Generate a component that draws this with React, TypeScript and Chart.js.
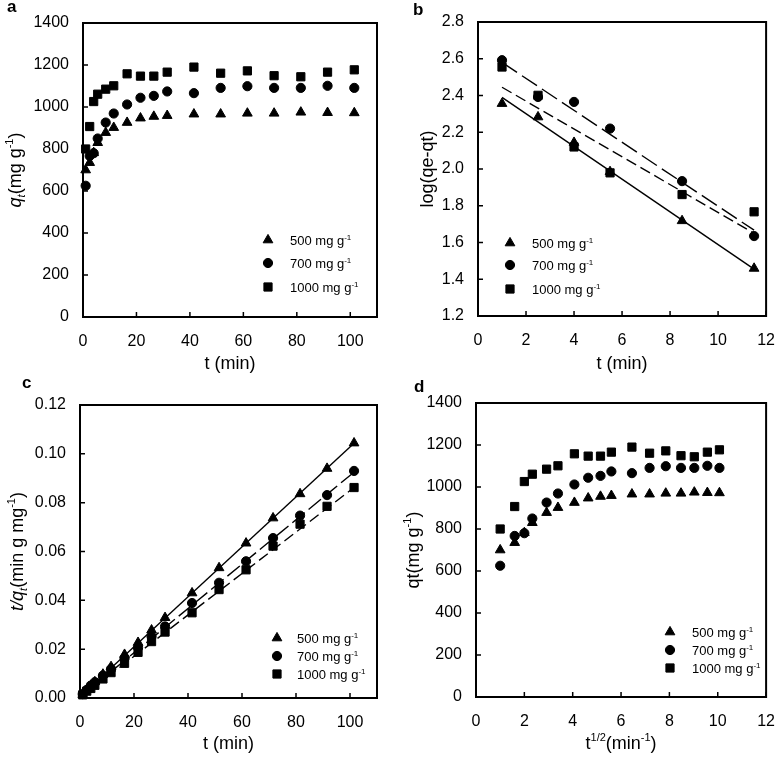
import React, { useEffect, useRef } from "react";
import { Chart, registerables } from "chart.js";
Chart.register(...registerables);

const FONT = "'Liberation Sans', Arial, Helvetica, sans-serif";

// ---------- data ----------
const seriesNames = ["500 mg g", "700 mg g", "1000 mg g"];

// contact time (min)
const timeMin = [1, 2.5, 4, 5.5, 8.5, 11.5, 16.5, 21.5, 26.5, 31.5, 41.5, 51.5, 61.5, 71.5, 81.5, 91.5, 101.5];
// t^(1/2) values as plotted in panel d
const sqrtTime = [1, 1.6, 2, 2.33, 2.92, 3.39, 4.07, 4.64, 5.15, 5.6, 6.45, 7.18, 7.85, 8.48, 9.03, 9.57, 10.07];

const qt500 = [700, 735, 782, 830, 878, 902, 926, 947, 955, 959, 966, 966, 970, 970, 975, 973, 972];
const qt700 = [625, 767, 780, 850, 926, 969, 1012, 1044, 1053, 1074, 1066, 1091, 1099, 1091, 1091, 1101, 1091];
const qt1000 = [800, 907, 1026, 1061, 1085, 1101, 1158, 1147, 1147, 1166, 1190, 1161, 1172, 1149, 1144, 1166, 1177];

// pseudo-first-order (panel b)
const tFirst = [1, 2.5, 4, 5.5, 8.5, 11.5];
const log500 = [2.356, 2.283, 2.144, 1.985, 1.718, 1.459];
const log700 = [2.592, 2.392, 2.365, 2.22, 1.934, 1.635];
const log1000 = [2.555, 2.401, 2.12, 1.979, 1.861, 1.767];
const fitXFirst = [1, 11.5];
const fitLog500 = [2.39, 1.455];
const fitLog700 = [2.58, 1.667];
const fitLog1000 = [2.445, 1.65];

// pseudo-second-order (panel c)
const tq500 = [0.0014, 0.0034, 0.0051, 0.0066, 0.0097, 0.0128, 0.0178, 0.0227, 0.0278, 0.0329, 0.043, 0.0533, 0.0634, 0.0737, 0.0836, 0.094, 0.1044];
const tq700 = [0.0016, 0.0033, 0.0051, 0.0065, 0.0092, 0.0119, 0.0163, 0.0206, 0.0252, 0.0293, 0.0389, 0.0472, 0.056, 0.0655, 0.0747, 0.0831, 0.093];
const tq1000 = [0.0013, 0.0028, 0.0039, 0.0052, 0.0078, 0.0104, 0.0142, 0.0187, 0.0231, 0.027, 0.0349, 0.0444, 0.0525, 0.0622, 0.0712, 0.0785, 0.0862];
const fitXSecond = [0.5, 101.5];
const fitTq500 = [0.001, 0.1043];
const fitTq700 = [0.0008, 0.0925];
const fitTq1000 = [0.0005, 0.0862];

// tick values
const ticksQt = [0, 200, 400, 600, 800, 1000, 1200, 1400];
const ticksTime = [0, 20, 40, 60, 80, 100];
const ticksLog = [1.2, 1.4, 1.6, 1.8, 2.0, 2.2, 2.4, 2.6, 2.8];
const ticksTwelve = [0, 2, 4, 6, 8, 10, 12];
const ticksTq = [0, 0.02, 0.04, 0.06, 0.08, 0.1, 0.12];

// ---------- helpers ----------
type Seg = { t: string; it?: boolean; sup?: boolean; sub?: boolean };

function segFont(s: Seg, size: number) {
  const sz = s.sup || s.sub ? Math.round(size * 0.62) : size;
  return `${s.it ? "italic " : ""}${sz}px ${FONT}`;
}
function richWidth(ctx: CanvasRenderingContext2D, segs: Seg[], size: number) {
  let w = 0;
  for (const s of segs) {
    ctx.font = segFont(s, size);
    w += ctx.measureText(s.t).width;
  }
  return w;
}
function drawRich(ctx: CanvasRenderingContext2D, segs: Seg[], size: number, x: number, y: number, align: "center" | "left", rotate = false) {
  ctx.save();
  ctx.translate(x, y);
  if (rotate) ctx.rotate(-Math.PI / 2);
  ctx.fillStyle = "#000";
  ctx.textBaseline = "alphabetic";
  ctx.textAlign = "left";
  const w = richWidth(ctx, segs, size);
  let cx = align === "center" ? -w / 2 : 0;
  for (const s of segs) {
    ctx.font = segFont(s, size);
    const dy = s.sup ? -size * 0.42 : s.sub ? size * 0.22 : 0;
    ctx.fillText(s.t, cx, dy);
    cx += ctx.measureText(s.t).width;
  }
  ctx.restore();
}

function drawMarker(ctx: CanvasRenderingContext2D, style: string, x: number, y: number, r: number) {
  ctx.beginPath();
  if (style === "triangle") {
    ctx.moveTo(x, y - r);
    ctx.lineTo(x + r * 0.866, y + r / 2);
    ctx.lineTo(x - r * 0.866, y + r / 2);
    ctx.closePath();
  } else if (style === "circle") {
    ctx.arc(x, y, r, 0, Math.PI * 2);
  } else {
    const s = r * Math.SQRT1_2;
    ctx.rect(x - s, y - s, 2 * s, 2 * s);
  }
  ctx.fillStyle = "#000";
  ctx.fill();
  ctx.lineWidth = 1;
  ctx.strokeStyle = "#000";
  ctx.stroke();
}

const STYLES = ["triangle", "circle", "rect"];
const RADII = [5.6, 4.6, 5.8];

function pts(xs: number[], ys: number[], k: number) {
  return {
    data: xs.map((x, i) => ({ x, y: ys[i] })),
    showLine: false,
    pointStyle: STYLES[k],
    pointRadius: RADII[k],
    pointBorderWidth: 1,
    backgroundColor: "#000",
    borderColor: "#000",
    clip: false,
  };
}
function fit(xs: number[], ys: number[], dash: number[]) {
  return {
    data: xs.map((x, i) => ({ x, y: ys[i] })),
    showLine: true,
    pointRadius: 0,
    borderColor: "#000",
    borderWidth: 1.4,
    borderDash: dash,
    fill: false,
  };
}

type Spec = {
  left: number; top: number; w: number; h: number;
  area: { l: number; t: number; r: number; b: number };
  x: { min: number; max: number; ticks: number[]; dec: number };
  y: { min: number; max: number; ticks: number[]; dec: number };
  datasets: any[];
  letter: { t: string; x: number; y: number };
  xTitle: { segs: Seg[]; y: number };
  yTitle: { segs: Seg[]; x: number };
  legend: { mx: number; tx: number; rows: number[] };
};

const legendSegs = (name: string): Seg[] => [{ t: name }, { t: "-1", sup: true }];

const specs: Spec[] = [
  {
    left: 0, top: 0, w: 391, h: 378,
    area: { l: 83, t: 23, r: 377, b: 317 },
    x: { min: 0, max: 110, ticks: ticksTime, dec: 0 },
    y: { min: 0, max: 1400, ticks: ticksQt, dec: 0 },
    datasets: [pts(timeMin, qt500, 0), pts(timeMin, qt700, 1), pts(timeMin, qt1000, 2)],
    letter: { t: "a", x: 7, y: 12 },
    xTitle: { segs: [{ t: "t (min)" }], y: 369 },
    yTitle: { segs: [{ t: "q", it: true }, { t: "t", it: true, sub: true }, { t: "(mg g" }, { t: "-1", sup: true }, { t: ")" }], x: 21 },
    legend: { mx: 268, tx: 290, rows: [240, 263, 287] },
  },
  {
    left: 391, top: 0, w: 391, h: 378,
    area: { l: 87, t: 22, r: 379, b: 316 },
    x: { min: 0, max: 12, ticks: ticksTwelve, dec: 0 },
    y: { min: 1.2, max: 2.8, ticks: ticksLog, dec: 1 },
    datasets: [
      pts(tFirst, log500, 0), pts(tFirst, log700, 1), pts(tFirst, log1000, 2),
      fit(fitXFirst, fitLog500, []), fit(fitXFirst, fitLog700, [18, 6]), fit(fitXFirst, fitLog1000, [11, 5]),
    ],
    letter: { t: "b", x: 22, y: 15 },
    xTitle: { segs: [{ t: "t (min)" }], y: 369 },
    yTitle: { segs: [{ t: "log(qe-qt)" }], x: 42 },
    legend: { mx: 119, tx: 141, rows: [243, 265, 289] },
  },
  {
    left: 0, top: 378, w: 391, h: 379,
    area: { l: 80, t: 27, r: 377, b: 320 },
    x: { min: 0, max: 110, ticks: ticksTime, dec: 0 },
    y: { min: 0, max: 0.12, ticks: ticksTq, dec: 2 },
    datasets: [
      pts(timeMin, tq500, 0), pts(timeMin, tq700, 1), pts(timeMin, tq1000, 2),
      fit(fitXSecond, fitTq500, []), fit(fitXSecond, fitTq700, [16, 5]), fit(fitXSecond, fitTq1000, [11, 5]),
    ],
    letter: { t: "c", x: 22, y: 10 },
    xTitle: { segs: [{ t: "t (min)" }], y: 371 },
    yTitle: { segs: [{ t: "t/q", it: true }, { t: "t", it: true, sub: true }, { t: "(min g mg" }, { t: "-1", sup: true }, { t: ")" }], x: 23 },
    legend: { mx: 277, tx: 297, rows: [260, 278, 296] },
  },
  {
    left: 391, top: 378, w: 391, h: 379,
    area: { l: 85, t: 25, r: 379, b: 319 },
    x: { min: 0, max: 12, ticks: ticksTwelve, dec: 0 },
    y: { min: 0, max: 1400, ticks: ticksQt, dec: 0 },
    datasets: [pts(sqrtTime, qt500, 0), pts(sqrtTime, qt700, 1), pts(sqrtTime, qt1000, 2)],
    letter: { t: "d", x: 23, y: 14 },
    xTitle: { segs: [{ t: "t" }, { t: "1/2", sup: true }, { t: "(min" }, { t: "-1", sup: true }, { t: ")" }], y: 371 },
    yTitle: { segs: [{ t: "qt(mg g" }, { t: "-1", sup: true }, { t: ")" }], x: 28 },
    legend: { mx: 279, tx: 301, rows: [254, 272, 290] },
  },
];

function makeDecor(spec: Spec) {
  return {
    id: "decor",
    afterDraw(chart: any) {
      const ctx: CanvasRenderingContext2D = chart.ctx;
      const { left, top, right, bottom } = chart.chartArea;
      const xs = chart.scales.x;
      const ys = chart.scales.y;
      ctx.save();
      // inward ticks
      ctx.strokeStyle = "#000";
      ctx.lineWidth = 1.5;
      ctx.beginPath();
      for (const v of spec.x.ticks) {
        const px = xs.getPixelForValue(v);
        ctx.moveTo(px, bottom);
        ctx.lineTo(px, bottom - 5);
      }
      for (const v of spec.y.ticks) {
        const py = ys.getPixelForValue(v);
        ctx.moveTo(left, py);
        ctx.lineTo(left + 5, py);
      }
      ctx.stroke();
      // frame
      ctx.lineWidth = 2;
      ctx.strokeRect(left, top, right - left, bottom - top);
      // panel letter
      ctx.fillStyle = "#000";
      ctx.font = `bold 17px ${FONT}`;
      ctx.textAlign = "left";
      ctx.textBaseline = "alphabetic";
      ctx.fillText(spec.letter.t, spec.letter.x, spec.letter.y);
      // axis titles
      drawRich(ctx, spec.xTitle.segs, 18, (left + right) / 2, spec.xTitle.y, "center");
      drawRich(ctx, spec.yTitle.segs, 18, spec.yTitle.x, (top + bottom) / 2, "center", true);
      // legend
      spec.legend.rows.forEach((ry, k) => {
        drawMarker(ctx, STYLES[k], spec.legend.mx, ry, RADII[k]);
        drawRich(ctx, legendSegs(seriesNames[k]), 13, spec.legend.tx, ry + 5, "left");
      });
      ctx.restore();
    },
  };
}

function Panel({ spec }: { spec: Spec }) {
  const ref = useRef<HTMLCanvasElement | null>(null);
  useEffect(() => {
    if (!ref.current) return;
    const tickFont = { family: FONT, size: 16 };
    const chart = new Chart(ref.current, {
      type: "scatter",
      data: { datasets: spec.datasets },
      options: {
        animation: false,
        responsive: false,
        devicePixelRatio: 1,
        layout: { padding: { top: spec.area.t, right: spec.w - spec.area.r, bottom: 0, left: 0 } },
        plugins: { legend: { display: false }, tooltip: { enabled: false } },
        scales: {
          x: {
            type: "linear",
            min: spec.x.min,
            max: spec.x.max,
            grid: { display: false },
            border: { display: false },
            ticks: {
              font: tickFont,
              color: "#000",
              padding: 7,
              maxRotation: 0,
              autoSkip: false,
              callback: (v: any) => Number(v).toFixed(spec.x.dec),
            },
            afterBuildTicks: (s: any) => {
              s.ticks = spec.x.ticks.map((value) => ({ value }));
            },
            afterFit: (s: any) => {
              s.height = spec.h - spec.area.b;
            },
          },
          y: {
            type: "linear",
            min: spec.y.min,
            max: spec.y.max,
            grid: { display: false },
            border: { display: false },
            ticks: {
              font: tickFont,
              color: "#000",
              padding: 6,
              autoSkip: false,
              callback: (v: any) => Number(v).toFixed(spec.y.dec),
            },
            afterBuildTicks: (s: any) => {
              s.ticks = spec.y.ticks.map((value) => ({ value }));
            },
            afterFit: (s: any) => {
              s.width = spec.area.l;
            },
          },
        },
      } as any,
      plugins: [makeDecor(spec)],
    });
    return () => chart.destroy();
  }, [spec]);
  return (
    <canvas
      ref={ref}
      width={spec.w}
      height={spec.h}
      style={{ position: "absolute", left: spec.left, top: spec.top, width: spec.w, height: spec.h }}
    />
  );
}

export default function App() {
  return (
    <div style={{ position: "absolute", left: 0, top: 0, width: 782, height: 757, background: "#fff" }}>
      {specs.map((s, i) => (
        <Panel key={i} spec={s} />
      ))}
    </div>
  );
}
